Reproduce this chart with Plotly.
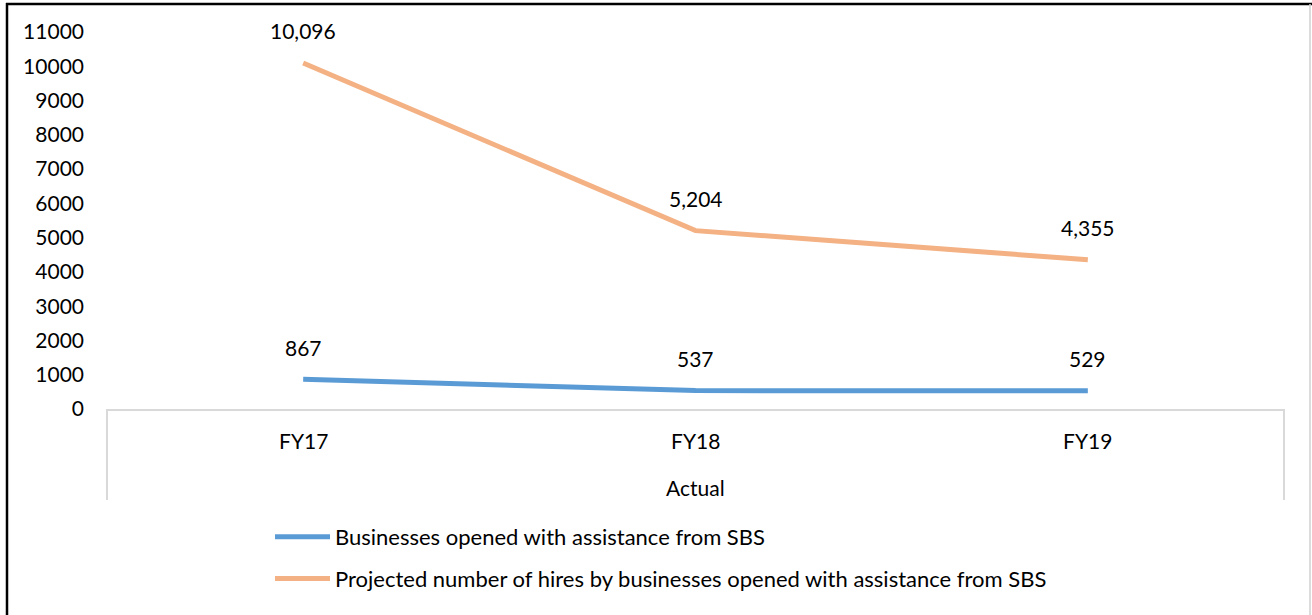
import plotly.graph_objects as go

# Fiscal years and the two tracked series
years = ["FY17", "FY18", "FY19"]
group_label = "Actual"
businesses_opened = [867, 537, 529]
projected_hires = [10096, 5204, 4355]
y_ticks = [0, 1000, 2000, 3000, 4000, 5000, 6000, 7000, 8000, 9000, 10000, 11000]

W, H = 1312, 615
L, R, T, B = 107, 28, 32, 206
plot_w = W - L - R
plot_h = H - T - B

FONT = "Lato"
SIZE = 21
BLUE = "#5B9BD5"
ORANGE = "#F4B183"
AXIS_GRAY = "#D9D9D9"


def px_x(px):
    return (px - L) / plot_w


def px_y(py):
    return (H - B - py) / plot_h


fig = go.Figure()
fig.add_trace(go.Scatter(
    x=years, y=businesses_opened, mode="lines",
    name="Businesses opened with assistance from SBS",
    legendgroup="a",
    line=dict(color=BLUE, width=5),
))
fig.add_trace(go.Scatter(
    x=years, y=projected_hires, mode="lines",
    name="Projected number of hires by businesses opened with assistance from SBS",
    legendgroup="b",
    line=dict(color=ORANGE, width=5),
))

annotations = []
# value labels above each point
for series in (businesses_opened, projected_hires):
    for yr, v in zip(years, series):
        annotations.append(dict(
            x=yr, y=v, xref="x", yref="y", text=f"{v:,}", showarrow=False,
            yshift=32, font=dict(family=FONT, size=SIZE, color="#000000"),
        ))
# category labels and the group label underneath
for yr in years:
    annotations.append(dict(
        x=yr, y=px_y(440), xref="x", yref="paper", text=yr, showarrow=False,
        yanchor="middle", font=dict(family=FONT, size=SIZE, color="#000000"),
    ))
annotations.append(dict(
    x=0.5, y=px_y(487), xref="paper", yref="paper", text=group_label,
    showarrow=False, yanchor="middle",
    font=dict(family=FONT, size=SIZE, color="#000000"),
))

shapes = [
    # category axis dividers
    dict(type="line", xref="paper", yref="paper", x0=0, x1=0,
         y0=0, y1=px_y(500), line=dict(color=AXIS_GRAY, width=2)),
    dict(type="line", xref="paper", yref="paper", x0=1, x1=1,
         y0=0, y1=px_y(500), line=dict(color=AXIS_GRAY, width=2)),
    # outer frame
    dict(type="line", xref="paper", yref="paper", x0=px_x(7), x1=px_x(7),
         y0=px_y(3), y1=px_y(620), line=dict(color="#000000", width=2.5)),
    dict(type="line", xref="paper", yref="paper", x0=px_x(6), x1=px_x(1320),
         y0=px_y(4), y1=px_y(4), line=dict(color="#000000", width=2.5)),
    dict(type="line", xref="paper", yref="paper", x0=px_x(1310), x1=px_x(1310),
         y0=px_y(4), y1=px_y(620), line=dict(color="#D0D0D0", width=1.5)),
]

fig.update_layout(
    width=W, height=H,
    margin=dict(l=L, r=R, t=T, b=B, autoexpand=False),
    paper_bgcolor="white", plot_bgcolor="white",
    font=dict(family=FONT, size=SIZE, color="#000000"),
    showlegend=True,
    legend=dict(
        x=px_x(270), y=px_y(516), xanchor="left", yanchor="top",
        orientation="v", itemwidth=55, tracegroupgap=10,
        font=dict(family=FONT, size=22, color="#000000"),
        bgcolor="rgba(0,0,0,0)",
    ),
    annotations=annotations,
    shapes=shapes,
)
fig.update_xaxes(
    range=[-0.5, 2.5], showticklabels=False, showgrid=False, zeroline=False,
    showline=True, linecolor=AXIS_GRAY, linewidth=2, ticks="",
)
fig.update_yaxes(
    range=[0, 11000], tickvals=y_ticks, ticktext=[str(v) for v in y_ticks],
    showgrid=False, zeroline=False,
    showline=False, ticks="", ticklabelstandoff=22,
    tickfont=dict(family=FONT, size=SIZE, color="#000000"),
)

fig.write_html("out.html")
